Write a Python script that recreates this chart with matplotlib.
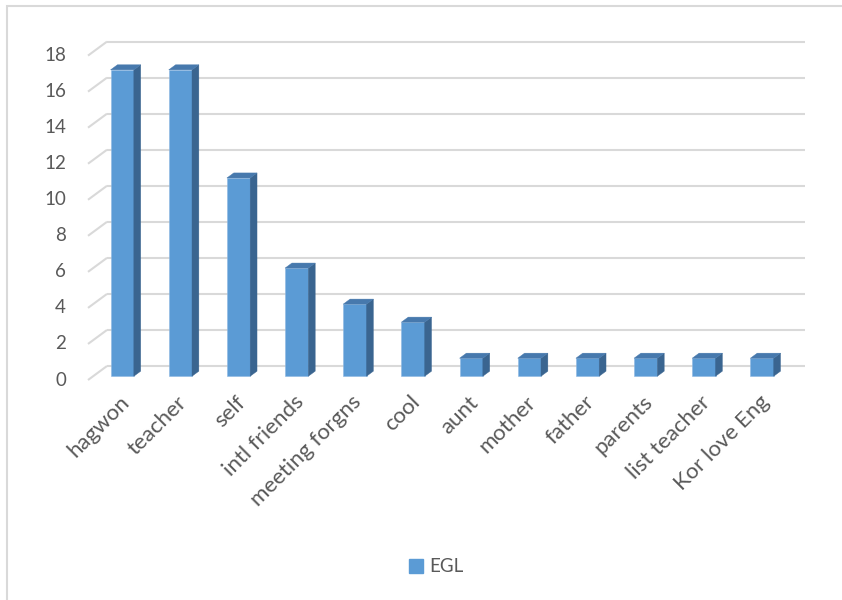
import matplotlib
matplotlib.use("Agg")
import matplotlib.pyplot as plt
from matplotlib.patches import Polygon, Rectangle, Patch
import numpy as np

plt.rcParams['font.family'] = ['Lato', 'DejaVu Sans']

categories = ["hagwon", "teacher", "self", "intl friends", "meeting forgns", "cool",
              "aunt", "mother", "father", "parents", "list teacher", "Kor love Eng"]
egl_counts = [17, 17, 11, 6, 4, 3, 1, 1, 1, 1, 1, 1]
y_ticks = [0, 2, 4, 6, 8, 10, 12, 14, 16, 18]
series_name = "EGL"

FRONT = "#5B9BD5"
TOP = "#4779AD"
SIDE = "#3A6590"
GRID = "#D9D9D9"
TEXT = "#595959"

W, H = 842, 600
fig = plt.figure(figsize=(W / 100, H / 100), dpi=100)
fig.patch.set_facecolor("white")

# plot area (front plane of the 3-D box) in figure pixels
x_left, x_right = 88, 786
y_bottom, y_top = 380, 55.6
ax = fig.add_axes([x_left / W, 1 - y_bottom / H,
                   (x_right - x_left) / W, (y_bottom - y_top) / H])
n = len(categories)
ax.set_xlim(-0.5, n - 0.5)
ax.set_ylim(0, 18)
ax.axis("off")

# depth of the box in data units (19 px right, 14 px up)
px_x = (x_right - x_left) / n
px_y = (y_bottom - y_top) / 18
ddx, ddy = 19 / px_x, 14 / px_y

# side-wall and back-wall gridlines
for v in y_ticks:
    ax.plot([-0.5, -0.5 + ddx], [v, v + ddy], color=GRID, lw=1.5,
            clip_on=False, zorder=1, solid_capstyle="butt")
    ax.plot([-0.5 + ddx, n - 0.5 + ddx], [v + ddy, v + ddy], color=GRID, lw=1.5,
            clip_on=False, zorder=1, solid_capstyle="butt")

# 3-D columns
x = np.arange(n)
w = 0.40
f0 = 0.27          # depth position of the column front
fb = 0.36          # column depth as a fraction of the box depth
ox, oy = f0 * ddx, f0 * ddy
bx, by = fb * ddx, fb * ddy
ax.bar(x + ox, egl_counts, width=w, bottom=oy, color=FRONT,
       edgecolor="#8DB8E2", linewidth=0.4, zorder=3, clip_on=False)
for xi, v in zip(x, egl_counts):
    l = xi + ox - w / 2
    r = xi + ox + w / 2
    b = oy
    t = v + oy
    side = Polygon([(r, b), (r + bx, b + by), (r + bx, t + by), (r, t)],
                   closed=True, facecolor=SIDE, edgecolor=SIDE, lw=0.3,
                   zorder=3, clip_on=False)
    top = Polygon([(l, t), (l + bx, t + by), (r + bx, t + by), (r, t)],
                  closed=True, facecolor=TOP, edgecolor=TOP, lw=0.3,
                  zorder=3, clip_on=False)
    ax.add_patch(side)
    ax.add_patch(top)

# value axis labels
for v in y_ticks:
    ax.annotate(str(v), xy=(-0.5, v), xycoords="data",
                xytext=(-22, 0), textcoords="offset pixels",
                ha="right", va="center", fontsize=13.5, color=TEXT)

# category labels
for xi, lab in zip(x, categories):
    ax.annotate(lab, xy=(xi + 0.03, 0), xycoords="data",
                xytext=(0, -12), textcoords="offset pixels",
                ha="right", va="top", rotation=45, rotation_mode="anchor",
                fontsize=16, color=TEXT)

# legend
fig.legend(handles=[Patch(facecolor=FRONT, edgecolor=FRONT, label=series_name)],
           loc="center", bbox_to_anchor=(436 / W, 1 - 567 / H), frameon=False,
           handlelength=0.75, handleheight=0.75, handletextpad=0.35,
           prop={"size": 13.5}, labelcolor=TEXT)

# chart area border
fig.add_artist(Rectangle((6.5 / W, -0.05), 1.2, 1.05 - 5.8 / H,
                         transform=fig.transFigure, facecolor="none",
                         edgecolor=GRID, lw=1.5))

fig.savefig("out.png", dpi=100, facecolor="white")
